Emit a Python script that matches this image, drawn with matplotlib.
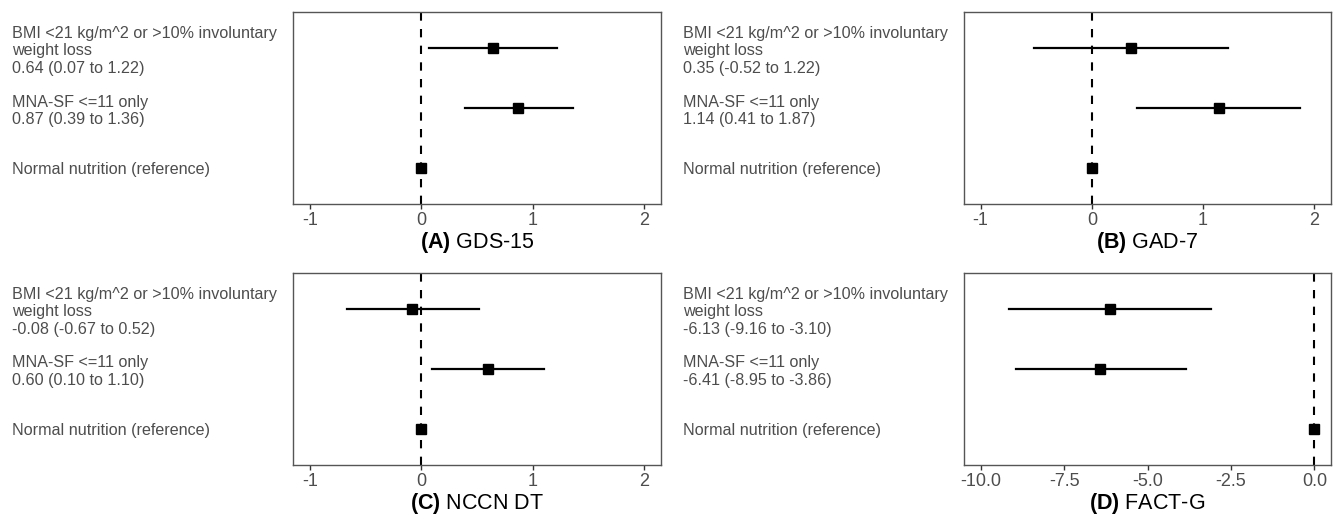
import matplotlib
matplotlib.use("Agg")
import matplotlib.pyplot as plt

plt.rcParams['font.family'] = ['Liberation Sans', 'DejaVu Sans']
plt.rcParams['mathtext.fontset'] = 'custom'
plt.rcParams['mathtext.rm'] = 'Liberation Sans'
plt.rcParams['mathtext.bf'] = 'Liberation Sans:bold'

# groups, top to bottom
groups = ["BMI <21 kg/m^2 or >10% involuntary\nweight loss",
          "MNA-SF <=11 only",
          "Normal nutrition (reference)"]

panels = ["(A)", "(B)", "(C)", "(D)"]
outcomes = ["GDS-15", "GAD-7", "NCCN DT", "FACT-G"]

# estimates and 95% CI per panel (non-reference groups first)
est = [[0.64, 0.87, 0.0], [0.35, 1.14, 0.0], [-0.08, 0.60, 0.0], [-6.13, -6.41, 0.0]]
lo = [[0.07, 0.39, 0.0], [-0.52, 0.41, 0.0], [-0.67, 0.10, 0.0], [-9.16, -8.95, 0.0]]
hi = [[1.22, 1.36, 0.0], [1.22, 1.87, 0.0], [0.52, 1.10, 0.0], [-3.10, -3.86, 0.0]]

xticks = [[-1, 0, 1, 2], [-1, 0, 1, 2], [-1, 0, 1, 2], [-10, -7.5, -5, -2.5, 0]]
xticklabels = [["-1", "0", "1", "2"], ["-1", "0", "1", "2"], ["-1", "0", "1", "2"],
               ["-10.0", "-7.5", "-5.0", "-2.5", "0.0"]]
xlims = [(-1.15, 2.15), (-1.15, 2.15), (-1.15, 2.15), (-10.5, 0.5)]

W, H = 1338, 516
fig = plt.figure(figsize=(W / 100, H / 100), dpi=100)

# axes boxes in pixels: left, top, right, bottom
boxes = [(293, 12, 661, 204), (964, 12, 1331, 204),
         (293, 273, 661, 465), (964, 273, 1331, 465)]
label_gap = 281  # px from left edge of label block to axes

ypos = [3, 2, 1]
for i in range(4):
    l, t, r, b = boxes[i]
    ax = fig.add_axes([l / W, 1 - b / H, (r - l) / W, (b - t) / H])
    ax.axvline(0, color='black', lw=1.5, ls=(0, (4, 4)), zorder=1)
    for k in range(3):
        ax.plot([lo[i][k], hi[i][k]], [ypos[k], ypos[k]], color='black', lw=1.6, zorder=2)
        ax.plot(est[i][k], ypos[k], marker='s', color='black', ms=7, zorder=3)

    labels = []
    for k in range(3):
        if k < 2:
            labels.append(f"{groups[k]}\n{est[i][k]:.2f} ({lo[i][k]:.2f} to {hi[i][k]:.2f})")
        else:
            labels.append(groups[k])
    ax.set_yticks(ypos)
    ax.set_yticklabels(labels, ha='left', color='#4d4d4d', fontsize=11.6, linespacing=1.2)
    ax.tick_params(axis='y', length=0, pad=label_gap * 0.72)
    ax.set_ylim(0.4, 3.6)

    ax.set_xlim(*xlims[i])
    ax.set_xticks(xticks[i])
    ax.set_xticklabels(xticklabels[i], color='#4d4d4d', fontsize=13)
    ax.tick_params(axis='x', length=3.5, width=1, color='#333333', pad=2)

    for s in ax.spines.values():
        s.set_color('#555555')
        s.set_linewidth(1.0)

    ax.set_xlabel(r"$\mathbf{" + panels[i] + "}$ " + outcomes[i], fontsize=15.5,
                  color='black', labelpad=1)

fig.savefig("out.png", dpi=100)
